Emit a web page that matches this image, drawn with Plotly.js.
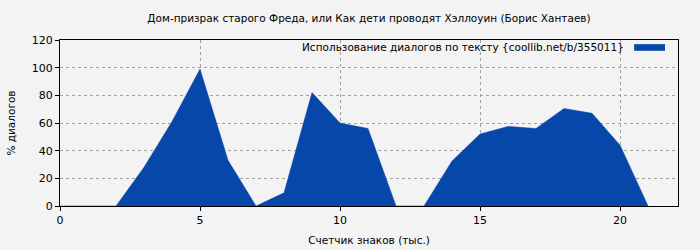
<!DOCTYPE html>
<html><head><meta charset="utf-8">
<script src="https://cdn.plot.ly/plotly-3.0.1.min.js"></script>
<style>html,body{margin:0;padding:0;background:#f3f3f3;}</style>
</head><body>
<div id="chart" style="width:700px;height:250px;"></div>
<script>
const chartTitle = 'Дом-призрак старого Фреда, или Как дети проводят Хэллоуин (Борис Хантаев)';
const seriesName = 'Использование диалогов по тексту {coollib.net/b/355011}';
const xTitle = 'Счетчик знаков (тыс.)';
const yTitle = '% диалогов';
const xValues = [0, 1, 2, 3, 4, 5, 6, 7, 8, 9, 10, 11, 12, 13, 14, 15, 16, 17, 18, 19, 20, 21];
const yValues = [0, 0, 0, 28, 61, 99, 33, 0, 9.5, 82, 60, 56, 0, 0, 32.5, 52, 57.5, 56, 70.5, 67, 44, 0];
const fillColor = '#0747aa';

const trace = {
  x: xValues, y: yValues, name: seriesName, type: 'scatter', mode: 'lines',
  fill: 'tozeroy', fillcolor: fillColor, line: {color: fillColor, width: 0.5},
  showlegend: false, hoverinfo: 'x+y'
};
const font = {family: 'DejaVu Sans', size: 11, color: '#000'};
const textFont = {family: 'DejaVu Sans', size: 10.5, color: '#000'};
const layout = {
  width: 700, height: 250,
  paper_bgcolor: '#f3f3f3', plot_bgcolor: '#f3f3f3',
  margin: {l: 60, r: 22, t: 40, b: 44},
  font: font,
  title: {text: chartTitle, font: textFont, xref: 'paper', x: 0.5, xanchor: 'center', y: 0.925, yanchor: 'middle'},
  xaxis: {
    range: [0, 22.07], tickvals: [0, 5, 10, 15, 20], ticktext: ['0', '5', '10', '15', '20'],
    showline: true, linecolor: '#000', linewidth: 1, mirror: true, layer: 'above traces',
    ticks: 'outside', ticklen: 4, tickcolor: '#000',
    showgrid: true, gridcolor: '#a0a0a0', griddash: 'dot', gridwidth: 1, zeroline: false,
    title: {text: xTitle, font: textFont, standoff: 10}
  },
  yaxis: {
    range: [0, 120], tickvals: [0, 20, 40, 60, 80, 100, 120],
    showline: true, linecolor: '#000', linewidth: 1, mirror: true, layer: 'above traces',
    ticks: 'outside', ticklen: 4, tickcolor: '#000',
    showgrid: true, gridcolor: '#a0a0a0', griddash: 'dot', gridwidth: 1, zeroline: false,
    title: {text: yTitle, font: textFont, standoff: 14}
  },
  annotations: [{
    xref: 'paper', yref: 'paper', x: 0.9165, y: 0.958, xanchor: 'right', yanchor: 'middle',
    text: seriesName, showarrow: false, font: textFont
  }],
  shapes: [{
    type: 'rect', xref: 'paper', yref: 'paper', x0: 0.929, x1: 0.979, y0: 0.935, y1: 0.975,
    fillcolor: fillColor, line: {width: 0}
  }]
};
Plotly.newPlot('chart', [trace], layout, {displayModeBar: false, staticPlot: true});
</script>
</body></html>
